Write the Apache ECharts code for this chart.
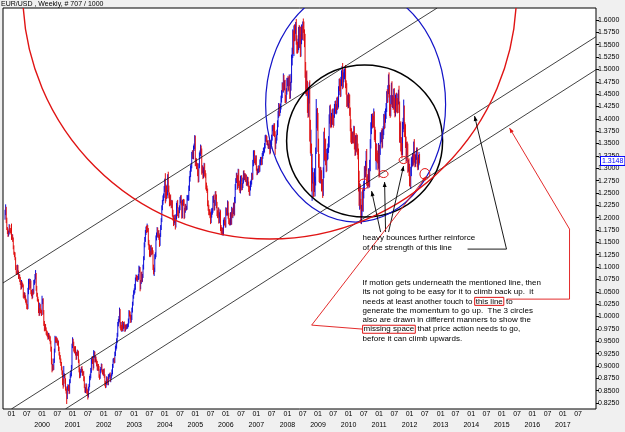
<!DOCTYPE html>
<html><head><meta charset="utf-8">
<script src="https://cdn.jsdelivr.net/npm/echarts@6/dist/echarts.min.js"></script>
<style>html,body{margin:0;padding:0;background:#f0f0f0;}#c{width:625px;height:432px;}</style>
</head><body><div id="c"></div>
<script>
// ---- weekly closes (units of 0.001), weeks starting Monday ----
const close1998 = [1210,1218,1195,1178,1172,1165,1170,1182,1175,1172,1170];
const close1999 = [1160,1162,1157,1140, 1128,1125,1118,1100, 1090,1088,1100,1090,1080, 1082,1075,1068,1060, 1068,1064,1062,1044,1040, 1045,1038,1032,1030, 1020,1018,1050,1070, 1072,1060,1070,1050,1045, 1040,1052,1050,1068, 1070,1080,1085,1058, 1045,1035,1032,1013,1005, 1020,1012,1010,1007];
const close2000 = [1030,1032,1010,985,975, 980,975,968,965, 962,958,963,958, 955,948,935,910, 895,898,895,910,932, 955,950,955,952, 945,948,935,925,918, 910,905,895,888, 870,862,880,880, 870,855,848,838,855, 858,855,848,870, 880,885,898,940];
const close2001 = [950,945,935,930,935, 925,918,925,928, 925,910,893,880, 885,890,895,890,885, 885,875,860,850, 853,860,850,845, 840,855,860,875,880, 890,910,915,910, 900,920,925,912, 915,910,905,895,900, 895,880,878,890, 895,900,890,888,885];
const close2002 = [890,880,865,860, 865,875,870,865, 878,880,882,872, 878,882,888,900,910, 912,910,925,935, 940,950,962,985, 990,995,1010,985,978, 975,985,975,980, 985,980,975,980,978, 980,980,982,990, 1008,1005,1000,992, 998,1012,1025,1040,1048];
const close2003 = [1052,1060,1075,1080, 1078,1075,1078,1080, 1095,1095,1060,1070,1085, 1075,1082,1100,1118, 1145,1155,1170,1178, 1175,1180,1175,1150,1140, 1128,1125,1140,1130, 1135,1130,1100,1090, 1095,1120,1125,1160,1165, 1175,1165,1170,1160, 1148,1165,1180,1195, 1220,1230,1240,1245,1258];
const close2004 = [1268,1238,1260,1245, 1250,1280,1260,1245, 1230,1240,1230,1225,1230, 1210,1200,1190,1195, 1200,1185,1200,1225,1230, 1210,1205,1215,1220, 1235,1240,1230,1205, 1230,1232,1230,1205,1215, 1222,1220,1220,1240, 1240,1240,1258,1278, 1288,1300,1305,1325,1330, 1325,1340,1345,1358];
const close2005 = [1310,1315,1305,1305,1292, 1278,1305,1325,1330, 1340,1335,1295,1300, 1285,1295,1305,1290, 1285,1265,1260,1255,1230, 1220,1212,1210,1205, 1195,1205,1212,1215, 1238,1240,1220,1230,1248, 1242,1225,1210,1205, 1215,1195,1205,1210,1180, 1175,1170,1175,1170, 1190,1195,1190,1185];
const close2006 = [1215,1210,1210,1228,1205, 1193,1190,1190,1205, 1192,1215,1205,1212, 1225,1210,1235,1262, 1275,1285,1280,1265,1292, 1270,1262,1255,1278, 1280,1262,1265,1275,1290, 1282,1285,1278,1282, 1270,1270,1278,1268, 1258,1250,1260,1268,1272, 1285,1282,1310,1330, 1330,1315,1312,1320];
const close2007 = [1300,1292,1295,1295,1300, 1298,1312,1318,1318, 1312,1325,1330,1335, 1338,1345,1360,1362,1360, 1352,1352,1345,1345, 1352,1335,1345,1352, 1362,1380,1382,1372,1385, 1370,1345,1355,1362, 1372,1390,1408,1425, 1412,1420,1425,1440,1450, 1465,1462,1482,1465, 1470,1442,1440,1455,1475];
const close2008 = [1475,1465,1475,1480, 1450,1465,1482,1518, 1535,1566,1542,1579,1570, 1582,1582,1561,1546, 1544,1550,1577,1553, 1577,1537,1561,1579,1570, 1594,1586,1571,1560, 1501,1466,1485,1467, 1426,1422,1447,1460,1376, 1341,1343,1266,1273, 1273,1258,1255,1270, 1271,1333,1391,1408,1392];
const close2009 = [1345,1315,1290,1280, 1290,1285,1265,1268, 1255,1290,1360,1328,1345, 1318,1305,1325,1328, 1340,1353,1400,1415, 1395,1392,1400,1410,1398, 1395,1412,1420,1425, 1420,1420,1434,1430,1432, 1458,1472,1468,1455, 1475,1490,1500,1472, 1485,1490,1493,1495,1470, 1461,1434,1438,1432];
const close2010 = [1441,1440,1415,1387, 1367,1362,1361,1363, 1362,1376,1352,1335,1357, 1344,1355,1338,1330, 1275,1236,1256,1228,1196, 1212,1237,1224,1250, 1264,1293,1291,1305, 1327,1274,1271,1274,1289, 1272,1305,1349,1379, 1394,1397,1394,1393, 1403,1369,1367,1325,1339, 1324,1320,1308,1338];
const close2011 = [1291,1336,1361,1363,1369, 1352,1370,1376,1399, 1390,1404,1410,1423, 1448,1443,1458,1481, 1453,1418,1416,1438,1464, 1434,1434,1431,1450, 1426,1415,1438,1440, 1428,1423,1439,1449,1421, 1365,1380,1350,1339, 1338,1384,1389,1415,1377, 1375,1352,1324,1339, 1338,1304,1306,1296];
const close2012 = [1272,1268,1293,1314,1314, 1319,1316,1345,1319, 1313,1318,1327,1334, 1310,1306,1318,1323,1314.8];
const firstOpen = 1200;

// ---- upper / lower wicks beyond the body (units of 0.001) ----
const hi1998 = [6,9,4,5,3,6,4,5,3,4,3];
const lo1998 = [4,5,6,3,5,4,3,4,5,3,4];
const hi1999 = [18,5,4,3, 4,3,5,2, 4,3,5,4,3, 4,3,5,4, 6,3,4,3,5, 4,3,5,4, 3,5,8,6, 5,4,6,3,4, 5,4,3,6, 5,6,9,3, 4,3,5,3,4, 8,5,4,3];
const lo1999 = [5,4,6,4, 3,5,4,6, 5,4,3,5,4, 3,5,4,6, 4,5,3,6,4, 3,5,4,6, 5,4,3,5, 4,6,3,5,4, 5,3,6,4, 4,3,5,6, 5,4,3,6,4, 3,5,4,6];
const hi2000 = [12,4,5,3,6, 4,5,3,4, 5,3,4,3, 4,5,3,4, 5,6,4,5,3, 6,4,5,3, 4,5,3,4,3, 4,5,3,4, 3,4,20,5, 4,5,3,6,4, 5,4,6,3, 5,6,4,5];
const lo2000 = [4,5,6,4,5, 3,4,5,4, 4,5,4,3, 5,4,6,7, 8,5,4,3,4, 5,3,4,5, 4,3,5,4,5, 4,5,4,6, 9,8,4,5, 6,5,4,15,5, 4,6,5,4, 5,4,6,4];
const hi2001 = [8,5,4,5,4, 5,4,3,5, 4,5,3,4, 5,4,3,5,4, 3,5,4,3, 4,5,3,4, 5,3,4,5,4, 6,5,4,5, 4,12,5,4, 5,4,3,5,4, 4,5,3,4, 3,5,4,3,4];
const lo2001 = [4,5,6,4,5, 4,6,5,4, 5,4,6,5, 4,5,3,4,5, 4,6,5,4, 5,4,6,5, 8,4,5,3,4, 5,4,5,6, 9,5,4,5, 4,5,6,4,5, 5,4,6,4, 5,4,3,5,4];
const hi2002 = [4,5,3,4, 5,4,3,4, 5,4,3,5, 4,3,5,4,5, 4,5,4,6, 5,6,5,4, 5,6,8,5,4, 5,4,6,5, 4,5,4,3,5, 4,5,4,6, 5,4,5,4, 5,6,5,4,5];
const lo2002 = [5,4,6,5, 4,3,5,4, 4,5,3,4, 5,4,3,5,4, 3,5,4,5, 4,5,4,3, 5,4,6,9,6, 5,6,4,5, 5,4,6,5,4, 4,5,4,3, 4,5,6,5, 4,5,4,3,4];
const hi2003 = [5,6,4,5, 4,5,4,6, 8,6,5,4,5, 6,4,5,4, 5,6,5,4, 6,8,5,4,5, 6,5,4,5, 4,5,4,5, 4,6,5,4,5, 6,5,4,5, 6,4,5,4, 5,6,5,4,6];
const lo2003 = [4,5,6,4, 5,4,5,4, 5,6,9,5,4, 6,5,4,5, 4,5,4,5, 6,5,4,6,5, 7,5,4,6, 5,4,6,5, 8,5,4,5,6, 4,5,6,5, 7,5,4,5, 4,5,4,6,5];
const hi2004 = [11,22,7,5, 6,8,13,5, 6,5,7,5,6, 5,6,5,4, 6,5,7,5,4, 6,5,6,5, 7,5,6,4, 6,5,6,7,5, 6,5,4,6, 5,6,7,6, 7,6,5,8,6, 7,6,5,9];
const lo2004 = [6,9,5,7, 6,5,8,6, 7,6,5,6,5, 8,6,7,5, 6,9,5,4,6, 7,6,5,6, 5,6,5,7, 6,5,6,8,6, 5,6,5,4, 5,6,5,4, 5,6,7,5,6, 6,7,5,6];
const hi2005 = [8,6,5,6,5, 6,5,7,6, 8,6,5,6, 5,7,6,5, 6,5,6,5,4, 5,6,5,7, 6,8,7,5, 6,5,7,6,5, 6,5,7,5, 6,5,6,7,5, 5,6,5,4, 6,5,6,5];
const lo2005 = [6,5,7,6,8, 7,6,5,6, 5,6,8,5, 7,5,6,7, 5,8,6,5,7, 6,7,5,6, 8,6,5,6, 5,8,6,5,6, 5,6,7,6, 5,7,6,5,7, 6,5,6,5, 6,5,6,5];
const hi2006 = [6,5,6,7,5, 5,6,5,6, 6,7,5,6, 5,6,7,6, 5,6,5,6,7, 6,5,6,7, 5,6,5,6,5, 6,5,5,6, 5,6,5,4, 5,6,5,6,5, 6,5,7,6, 7,6,5,6];
const lo2006 = [5,6,5,6,7, 6,5,6,5, 7,6,5,6, 5,7,5,6, 6,5,7,8,5, 6,7,5,6, 5,7,6,5,6, 5,6,5,6, 5,6,5,6, 6,5,6,5,6, 5,6,5,6, 6,5,6,5];
const hi2007 = [6,5,4,5,6, 5,6,5,4, 5,6,5,6, 5,6,7,6,5, 5,4,5,5, 6,5,6,5, 6,7,6,5,6, 6,5,7,6, 6,7,8,7, 6,7,6,7,8, 9,8,10,7, 8,9,6,7,8];
const lo2007 = [5,6,5,4,5, 6,5,6,5, 6,5,6,5, 5,6,5,6,7, 5,6,5,6, 6,7,5,6, 5,6,5,7,6, 7,18,6,5, 6,5,7,6, 7,6,8,6,7, 8,7,9,8, 7,10,8,7,6];
const hi2008 = [8,12,9,10, 8,10,9,12, 9,15,13,10,12, 9,14,20,8, 10,12,9,13, 11,9,10,12,9, 3,9,11,10, 12,14,11,13, 10,15,17,14,18, 22,35,7,56, 28,19,14,30, 12,9,49,12,14];
const lo2008 = [9,10,8,9, 10,9,8,9, 10,12,11,15,13, 12,10,11,14, 12,10,11,9, 10,12,11,10,9, 11,12,13,15, 18,16,20,18, 14,20,18,16,22, 11,16,13,32, 4,16,13,3, 27,6,4,10,16];
const hi2009 = [20,15,14,12, 13,12,11,10, 10,12,14,22,12, 15,12,14,13, 10,12,9,12, 14,10,12,9,11, 10,9,10,11, 12,10,9,11,10, 8,9,10,12, 10,8,7,13, 9,10,8,9,14, 8,11,10,12];
const lo2009 = [12,14,18,10, 11,10,12,9, 15,11,10,12,14, 12,13,11,9, 10,9,11,10, 12,11,9,12,10, 13,9,10,8, 10,11,9,12,10, 9,10,12,11, 10,9,8,12, 9,11,10,9,8, 12,10,9,11];
const hi2010 = [12,10,9,8, 12,14,10,11, 12,10,9,11,10, 14,12,13,12, 10,20,14,12,10, 14,16,20,12, 10,11,12,10, 8,12,14,10,11, 9,12,10,14, 16,12,14,12, 18,12,15,11,12, 10,12,11,13];
const lo2010 = [10,8,9,12, 15,13,12,10, 11,12,14,10,9, 12,10,11,12, 22,12,20,10,8, 9,10,11,12, 11,10,12,9, 10,9,8,12,10, 12,10,11,9, 10,14,12,11, 10,12,14,10,28, 11,10,12,9];
const hi2011 = [10,11,12,9,8, 12,10,9,11, 10,12,11,9, 8,12,10,9, 13,16,12,10,9, 12,14,13,11, 12,16,11,12, 13,14,12,10,18, 14,12,15,13, 12,10,13,24,12, 16,14,12,14, 15,12,11,14];
const lo2011 = [10,8,9,11,10, 12,10,11,9, 11,9,12,10, 9,11,10,8, 10,12,14,11,9, 10,12,13,11, 14,12,10,11, 15,12,11,10,9, 13,14,16,12, 18,12,11,10,14, 12,11,13,10, 12,13,11,12];
const hi2012 = [13,12,10,8,10, 12,10,9,14, 9,10,8,8, 8,12,9,10,6];
const lo2012 = [8,6,10,9,12, 10,12,9,8, 11,10,9,10, 8,10,9,12,5];

// ---- price scale tick labels ----
const yTicks = [0.825,0.85,0.875,0.9,0.925,0.95,0.975,1.0,1.025,1.05,1.075,1.1,1.125,1.15,1.175,1.2,1.225,1.25,1.275,1.3,1.325,1.35,1.375,1.4,1.425,1.45,1.475,1.5,1.525,1.55,1.575,1.6];

// ---- drawn objects, anchored in [decimal year, price] ----
const channelLines = [
  [[1998.7227,1.0676],[2011.2512,1.5595]],
  [[1999.0489,0.8146],[2018.0701,1.5656]],
  [[2000.8108,0.8146],[2018.0701,1.4988]]
];
const bigEllipses = [ // [t1,p1,t2,p2] bounding boxes: black, blue, red
  [2007.9886,1.5089,2013.0783,1.2012],
  [2007.3035,1.6668,2013.1762,1.1911],
  [1999.3752,2.1567,2015.4927,1.1567]
];
const touchCircles = [
  [2010.3361,1.2781,2010.6623,1.2579],
  [2011.0065,1.2953,2011.3002,1.2812],
  [2011.6591,1.3237,2011.9527,1.3095],
  [2012.3393,1.2994,2012.6656,1.2771]
];
const bounceArrows = [
  [[2011.0555,1.1709],[2010.7619,1.2538]],
  [[2011.2186,1.1709],[2011.1860,1.2721]],
  [[2011.3165,1.1709],[2011.8059,1.3045]]
];
const blackPointer = [[2013.8936,1.1364],[2015.1660,1.1364],[2014.1219,1.4057]];
const redPointer = [[2015.1660,1.0352],[2017.2215,1.0352],[2017.2215,1.1769],[2015.2638,1.3814]];
const redV = [[2010.4682,0.9745],[2008.8042,0.9826],[2012.5595,1.2842]];
const note1Anchor = [2010.4682,1.1688];
const note2Anchor = [2010.4682,1.0777];
const note1 = ['heavy bounces further reinforce','of the strength of this line'];
const note2 = [
  'If motion gets underneath the mentioned line, then',
  'its not going to be easy for it to climb back up.  it',
  'needs at least another touch to {box|this line} to',
  'generate the momentum to go up.  The 3 circles',
  'also are drawn in different manners to show the',
  '{box|missing space} that price action needs to go,',
  'before it can climb upwards.'
];

// ---- build ----
const WEEK = 7*86400000;
const catStart = Date.UTC(1998,8,28);
const N = 1010;
const categories = [];
for (let i=0;i<N;i++) categories.push(new Date(catStart+i*WEEK).toISOString().slice(0,10));
function firstMonday(Y){ let d=Date.UTC(Y,0,1); while(new Date(d).getUTCDay()!==1) d+=86400000; return d; }
const yearsData = [
 [1998,close1998,hi1998,lo1998],[1999,close1999,hi1999,lo1999],[2000,close2000,hi2000,lo2000],
 [2001,close2001,hi2001,lo2001],[2002,close2002,hi2002,lo2002],[2003,close2003,hi2003,lo2003],
 [2004,close2004,hi2004,lo2004],[2005,close2005,hi2005,lo2005],[2006,close2006,hi2006,lo2006],
 [2007,close2007,hi2007,lo2007],[2008,close2008,hi2008,lo2008],[2009,close2009,hi2009,lo2009],
 [2010,close2010,hi2010,lo2010],[2011,close2011,hi2011,lo2011],[2012,close2012,hi2012,lo2012]];
const cl=new Array(N).fill(null), wh=new Array(N).fill(0), wl=new Array(N).fill(0);
yearsData.forEach(([Y,c,h,l])=>{
  const start = Y===1998 ? Date.UTC(1998,9,19) : firstMonday(Y);
  const base = Math.round((start-catStart)/WEEK);
  c.forEach((v,k)=>{ cl[base+k]=v/1000; wh[base+k]=(h[k]||0)/1000; wl[base+k]=(l[k]||0)/1000; });
});
const candles=[]; let prev=firstOpen/1000; let lastClose=null;
for (let i=0;i<N;i++){
  if (cl[i]==null){ candles.push('-'); continue; }
  const o=prev, c=cl[i];
  candles.push([o, c, Math.min(o,c)-wl[i], Math.max(o,c)+wh[i]]);
  prev=c; lastClose=c;
}

function tToIdx(t){ const Y=Math.floor(t); const a=Date.UTC(Y,0,1), b=Date.UTC(Y+1,0,1); return (a+(t-Y)*(b-a)-catStart)/WEEK; }
function clipLine(p1,p2,r){
  const dx=p2[0]-p1[0], dy=p2[1]-p1[1]; let t0=-1e9,t1=1e9;
  const ps=[-dx,dx,-dy,dy], qs=[p1[0]-r.x, r.x+r.width-p1[0], p1[1]-r.y, r.y+r.height-p1[1]];
  for (let i=0;i<4;i++){ if(ps[i]===0){ if(qs[i]<0) return null; continue; } const t=qs[i]/ps[i]; if(ps[i]<0){ if(t>t0)t0=t; } else { if(t<t1)t1=t; } }
  if (t0>t1) return null;
  return [[p1[0]+t0*dx,p1[1]+t0*dy],[p1[0]+t1*dx,p1[1]+t1*dy]];
}
function head(from,to,len,w){ const dx=to[0]-from[0], dy=to[1]-from[1]; const L=Math.hypot(dx,dy)||1; const ux=dx/L, uy=dy/L; const bx=to[0]-ux*len, by=to[1]-uy*len; return [to,[bx-uy*w,by+ux*w],[bx+uy*w,by-ux*w]]; }

const FONT='"Liberation Sans", Arial, sans-serif';
function renderAnno(params, api){
  const a=api.coord([0,1]), b=api.coord([N-1,1]);
  const X=t=>a[0]+tToIdx(t)*(b[0]-a[0])/(N-1);
  const Yp=p=>api.coord([0,p])[1];
  const P=q=>[X(q[0]),Yp(q[1])];
  const r=params.coordSys; const ch=[];
  channelLines.forEach(l=>{ const s=clipLine(P(l[0]),P(l[1]),r); if(s) ch.push({type:'line',shape:{x1:s[0][0],y1:s[0][1],x2:s[1][0],y2:s[1][1]},style:{stroke:'#111',lineWidth:0.8}}); });
  const ellCol=['#000','#1414c8','#e01414'], ellW=[1.5,1.2,1.4];
  bigEllipses.forEach((e,i)=>{ const p1=P([e[0],e[1]]), p2=P([e[2],e[3]]);
    ch.push({type:'ellipse',shape:{cx:(p1[0]+p2[0])/2,cy:(p1[1]+p2[1])/2,rx:Math.abs(p2[0]-p1[0])/2,ry:Math.abs(p2[1]-p1[1])/2},style:{fill:null,stroke:ellCol[i],lineWidth:ellW[i]}}); });
  touchCircles.forEach(e=>{ const p1=P([e[0],e[1]]), p2=P([e[2],e[3]]);
    ch.push({type:'ellipse',shape:{cx:(p1[0]+p2[0])/2,cy:(p1[1]+p2[1])/2,rx:Math.abs(p2[0]-p1[0])/2,ry:Math.abs(p2[1]-p1[1])/2},style:{fill:null,stroke:'#e01414',lineWidth:1}}); });
  bounceArrows.forEach(l=>{ const f=P(l[0]), t=P(l[1]);
    ch.push({type:'line',shape:{x1:f[0],y1:f[1],x2:t[0],y2:t[1]},style:{stroke:'#000',lineWidth:0.9}});
    ch.push({type:'polygon',shape:{points:head(f,t,5,2)},style:{fill:'#000'}}); });
  const bp=blackPointer.map(P);
  ch.push({type:'polyline',shape:{points:bp},style:{stroke:'#000',lineWidth:0.9,fill:null}});
  ch.push({type:'polygon',shape:{points:head(bp[bp.length-2],bp[bp.length-1],5,2)},style:{fill:'#000'}});
  const rp=redPointer.map(P);
  ch.push({type:'polyline',shape:{points:rp},style:{stroke:'#e01414',lineWidth:0.9,fill:null}});
  ch.push({type:'polygon',shape:{points:head(rp[rp.length-2],rp[rp.length-1],5,2)},style:{fill:'#e01414'}});
  const rv=redV.map(P);
  ch.push({type:'polyline',shape:{points:rv},style:{stroke:'#e01414',lineWidth:0.9,fill:null}});
  ch.push({type:'polygon',shape:{points:head(rv[rv.length-2],rv[rv.length-1],5,2)},style:{fill:'#e01414'}});
  const n1=P(note1Anchor), n2=P(note2Anchor);
  ch.push({type:'text',style:{x:n1[0],y:n1[1],text:note1.join('\n'),fill:'#000',font:'8px '+FONT,lineHeight:10,verticalAlign:'top'}});
  ch.push({type:'text',style:{x:n2[0],y:n2[1],text:note2.join('\n'),fill:'#000',font:'8px '+FONT,lineHeight:9.3,verticalAlign:'top',
    rich:{box:{font:'8px '+FONT,lineHeight:9.3,borderColor:'#e01414',borderWidth:1,padding:[0,1,0,1]}}}});
  return {type:'group',children:ch};
}

const chart=echarts.init(document.getElementById('c'),null,{renderer:'canvas'});
const ymin=1.6-389/494.19, ymax=1.6+12/494.19;
chart.setOption({
  animation:false,
  backgroundColor:'#f0f0f0',
  title:{text:'EUR/USD , Weekly, # 707 / 1000',left:1,top:1,padding:0,textStyle:{fontSize:7,fontWeight:'normal',color:'#000',fontFamily:FONT}},
  grid:{left:3,right:29,top:8,bottom:23,show:true,backgroundColor:'#fff',borderColor:'#000',borderWidth:1},
  xAxis:{type:'category',data:categories,boundaryGap:true,axisLine:{show:false},axisTick:{show:false},splitLine:{show:false},
    axisLabel:{interval:(i,v)=>{const m=+v.slice(5,7), d=+v.slice(8,10), Y=+v.slice(0,4); return (m===1||m===7)&&d<=7&&Y<2018;},
      formatter:v=>{const m=+v.slice(5,7), Y=+v.slice(0,4); if(m===7) return '07'; return Y===1999?'01':'01\n'+Y;},
      fontSize:7,lineHeight:11,margin:0,color:'#000',fontFamily:FONT,verticalAlign:'top'}},
  yAxis:{type:'value',position:'right',min:ymin,max:ymax,scale:true,axisLine:{show:false},splitLine:{show:false},
    axisTick:{show:true,length:3,lineStyle:{color:'#000'},customValues:yTicks},
    axisLabel:{customValues:yTicks,formatter:v=>v.toFixed(4),fontSize:7,color:'#000',margin:2,fontFamily:FONT}},
  series:[
    {type:'candlestick',data:candles,barMaxWidth:1,
      itemStyle:{color:'#0c0cd8',color0:'#e00c0c',borderColor:'#0c0cd8',borderColor0:'#e00c0c',borderWidth:1}},
    {type:'custom',coordinateSystem:'cartesian2d',clip:true,z:5,data:[[0,1]],renderItem:renderAnno,silent:true}
  ]
});
const py=chart.convertToPixel({yAxisIndex:0},lastClose);
chart.setOption({graphic:[{type:'text',x:601,y:py,z:10,style:{text:lastClose.toFixed(4),fill:'#0000ff',font:'7px '+FONT,verticalAlign:'middle',backgroundColor:'#fff',borderColor:'#0000ff',borderWidth:1,padding:[1,1,0,1]}}]});
</script></body></html>
